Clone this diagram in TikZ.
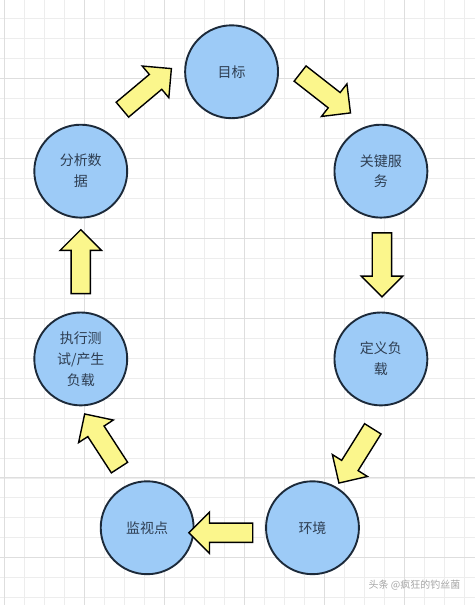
\documentclass[tikz,border=0pt]{standalone}
\usepackage{fontspec}
\usepackage{xcolor}
\usepackage{tikz}
\usetikzlibrary{shapes.arrows}
\newfontfamily\cjk{Noto Sans CJK SC}
\definecolor{circfill}{HTML}{9DCBF7}
\definecolor{circline}{HTML}{1C2A3A}
\definecolor{arrfill} {HTML}{FBF68C}
\definecolor{labeltxt}{HTML}{2E3E52}
\definecolor{gridlite}{HTML}{EDEDED}
\definecolor{griddark}{HTML}{DEDEDE}

\begin{document}
\begin{tikzpicture}[x=1pt,y=-1pt,
        stage/.style={circle,draw=circline,line width=1.9pt,fill=circfill,
                      text=labeltxt,font=\cjk\fontsize{14}{21}\selectfont,
                      minimum size=93pt,inner sep=0pt,align=center},
        blockarr/.style={single arrow,draw=black,line width=1.4pt,fill=arrfill,
                         minimum height=64pt,inner sep=9pt,
                         single arrow head extend=11pt},
        gridline/.style={gridlite,line width=0.6pt},
        gridmajor/.style={griddark,line width=0.7pt}]
        % background and grid
        \fill[white] (0,0) rectangle (475,605);
        \foreach \gx in {4,24,...,464} \draw[gridline] (\gx,0) -- (\gx,605);
        \foreach \gy in {18,38,...,598} \draw[gridline] (0,\gy) -- (475,\gy);
        \foreach \gx in {4,84,...,404} \draw[gridmajor] (\gx,0) -- (\gx,605);
        \foreach \gy in {78,158,...,558} \draw[gridmajor] (0,\gy) -- (475,\gy);
        % stages
        \node[stage] (goal) at (231.5,71.5) {目标};
        \node[stage] (keysvc) at (381,171) {关键服\\务};
        \node[stage] (defload) at (381,359) {定义负\\载};
        \node[stage] (env) at (312.5,528) {环境};
        \node[stage] (monitor) at (147,528) {监视点};
        \node[stage] (runtest) at (80.5,359) {执行测\\试/产生\\负载};
        \node[stage] (analyse) at (80.5,171) {分析数\\据};
        % block arrows
        \node[blockarr,rotate=40] (a1) at (143,92) {};
        \node[blockarr,rotate=-38] (a2) at (321.5,90) {};
        \node[blockarr,rotate=-90] (a3) at (382,260) {};
        \node[blockarr,rotate=-122] (a4) at (358.5,452) {};
        \node[blockarr,rotate=180] (a5) at (225.5,533) {};
        \node[blockarr,rotate=123] (a6) at (104.5,445) {};
        \node[blockarr,rotate=90] (a7) at (80.5,266.5) {};
        % watermark
        \node[text=gray!70,font=\cjk\fontsize{10}{12}\selectfont,anchor=east] (mark) at (464,585) {头条 @疯狂的钓丝菌};
      \end{tikzpicture}
\end{document}
